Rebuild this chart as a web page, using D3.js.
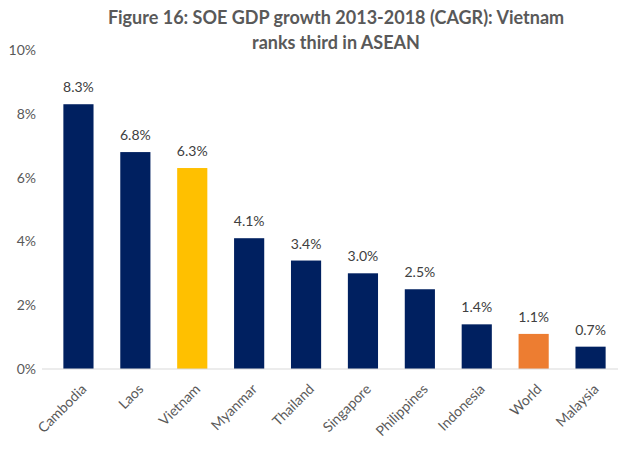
<!DOCTYPE html>
<html>
<head>
  <meta charset="utf-8">
  <script src="https://d3js.org/d3.v7.min.js"></script>
  <style>
    body { margin: 0; background: #fff; }
    text { font-family: Lato, "Open Sans", sans-serif; }
  </style>
</head>
<body>
  <div id="chart"></div>
<script>
// data
var countries = ["Cambodia", "Laos", "Vietnam", "Myanmar", "Thailand", "Singapore", "Philippines", "Indonesia", "World", "Malaysia"];
var growth = [8.3, 6.8, 6.3, 4.1, 3.4, 3.0, 2.5, 1.4, 1.1, 0.7];
var barColors = ["#002060", "#002060", "#FFC000", "#002060", "#002060", "#002060", "#002060", "#002060", "#ED7D31", "#002060"];
var yTicks = [0, 2, 4, 6, 8, 10];
var titleLines = ["Figure 16: SOE GDP growth 2013-2018 (CAGR): Vietnam", "ranks third in ASEAN"];

var W = 618, H = 458;
var svg = d3.select("#chart").append("svg")
  .attr("width", W)
  .attr("height", H);

// title
svg.append("g").selectAll("text")
  .data(titleLines)
  .enter().append("text")
    .attr("x", 336)
    .attr("y", function(d, i) { return 24 + i * 25; })
    .attr("text-anchor", "middle")
    .style("font-size", "18px")
    .style("font-weight", "bold")
    .style("fill", "#595959")
    .text(function(d) { return d; });

// scales
var x = d3.scaleBand()
  .domain(countries)
  .range([50, 619])
  .paddingInner(0.47)
  .paddingOuter(0.235);

var y = d3.scaleLinear()
  .domain([0, 10])
  .range([369, 50]);

// y axis (labels only)
var yAxis = svg.append("g")
  .attr("transform", "translate(36,0)")
  .call(d3.axisLeft(y).tickValues(yTicks).tickSize(0).tickPadding(0)
    .tickFormat(function(d) { return d + "%"; }));
yAxis.select(".domain").remove();
yAxis.selectAll("text")
  .style("font-size", "14px")
  .style("fill", "#595959")
  .style("font-family", "Lato, 'Open Sans', sans-serif");

// bars
svg.selectAll(".bar")
  .data(growth)
  .enter().append("rect")
    .attr("class", "bar")
    .attr("x", function(d, i) { return x(countries[i]); })
    .attr("y", function(d) { return y(d); })
    .attr("width", x.bandwidth())
    .attr("height", function(d) { return y(0) - y(d); })
    .attr("fill", function(d, i) { return barColors[i]; });

// value labels
svg.selectAll(".val")
  .data(growth)
  .enter().append("text")
    .attr("class", "val")
    .attr("x", function(d, i) { return x(countries[i]) + x.bandwidth() / 2; })
    .attr("y", function(d) { return y(d) - 12; })
    .attr("text-anchor", "middle")
    .style("font-size", "14px")
    .style("fill", "#404040")
    .text(function(d) { return d.toFixed(1) + "%"; });

// x axis
var xAxis = svg.append("g")
  .attr("transform", "translate(0," + y(0) + ")")
  .call(d3.axisBottom(x).tickSize(0).tickPadding(0));
xAxis.select(".domain").remove();
xAxis.append("line")
  .attr("x1", 42).attr("x2", W)
  .attr("y1", 0).attr("y2", 0)
  .attr("stroke", "#D9D9D9")
  .attr("stroke-width", 1);
xAxis.selectAll(".tick text")
  .attr("y", 0)
  .attr("dy", 0)
  .attr("text-anchor", "end")
  .attr("transform", "translate(9,21) rotate(-45)")
  .style("font-size", "14px")
  .style("fill", "#595959")
  .style("font-family", "Lato, 'Open Sans', sans-serif");
</script>
</body>
</html>
